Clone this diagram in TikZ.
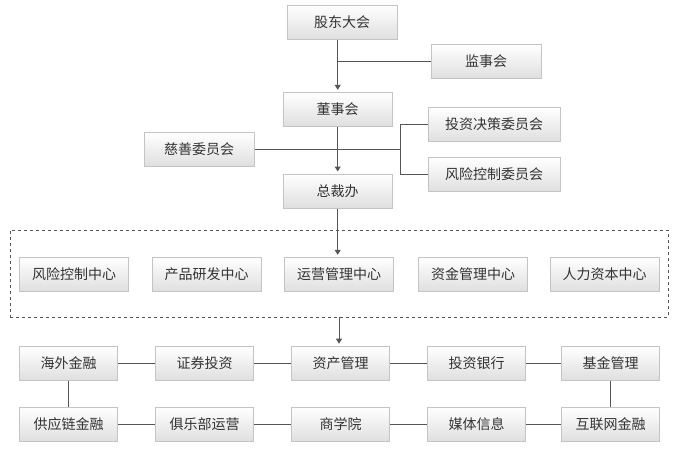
\documentclass[tikz,border=0pt]{standalone}
\usepackage{fontspec}
\setmainfont{Noto Sans CJK SC}
\usetikzlibrary{arrows.meta}
\definecolor{bordc}{HTML}{C4C4C4}
\definecolor{linec}{HTML}{555555}
\definecolor{txtc}{HTML}{333333}
\definecolor{botc}{HTML}{DFDFDF}
\tikzset{
  orgbox/.style={draw=bordc, line width=1pt, top color=white, bottom color=botc,
    minimum height=34pt, inner sep=0pt, text=txtc, font=\fontsize{14}{16}\selectfont},
  wa/.style={orgbox, minimum width=110pt},
  wb/.style={orgbox, minimum width=132pt},
  wc/.style={orgbox, minimum width=109pt},
  wd/.style={orgbox, minimum width=98pt},
  conn/.style={draw=linec, line width=1pt},
  arr/.style={conn, -{Triangle[width=6pt,length=5pt]}, shorten >=2pt}
}
\begin{document}
\begin{tikzpicture}[x=1pt,y=-1pt]
\useasboundingbox (0,0) rectangle (680,461);
% top part
\node[wa] (gd) at (342,22) {股东大会};
\node[wa] (js) at (486,61.5) {监事会};
\node[wc] (dsh) at (337.7,109.3) {董事会};
\node[wb] (tz) at (494,124.5) {投资决策委员会};
\node[wa] (cs) at (199,149.3) {慈善委员会};
\node[wb] (fk) at (494,174.5) {风险控制委员会};
\node[wc] (zcb) at (337.7,191) {总裁办};
% dashed group
\node[draw=linec, dashed, line width=0.8pt, minimum width=658pt, minimum height=87pt, inner sep=0pt] (grp) at (339,273.5) {};
\node[wc] (c1) at (74.2,274.3) {风险控制中心};
\node[wc] (c2) at (206.5,274.3) {产品研发中心};
\node[wc] (c3) at (339,274.3) {运营管理中心};
\node[wc] (c4) at (473,274.3) {资金管理中心};
\node[wc] (c5) at (604.5,274.3) {人力资本中心};
% row 3
\node[wd] (r1) at (68.7,363.2) {海外金融};
\node[wd] (r2) at (204.5,363.2) {证券投资};
\node[wd] (r3) at (340.5,363.2) {资产管理};
\node[wd] (r4) at (476.5,363.2) {投资银行};
\node[wd] (r5) at (610.5,363.2) {基金管理};
% row 4
\node[wd] (s1) at (68.7,424.2) {供应链金融};
\node[wd] (s2) at (204.5,424.2) {俱乐部运营};
\node[wd] (s3) at (340.5,424.2) {商学院};
\node[wd] (s4) at (476.5,424.2) {媒体信息};
\node[wd] (s5) at (610.5,424.2) {互联网金融};
% connectors
\coordinate (tk) at (337.7,0);
\coordinate (jsj) at (337.7,61.5);
\draw[arr] (gd.south -| tk) -- (dsh.north);
\draw[conn] (js.west) -- (jsj);
\draw[arr] (dsh.south) -- (zcb.north);
\coordinate (brx) at (400,0);
\draw[conn] (cs.east) -- (cs.east -| brx);
\draw[conn] (tz.west) -- (tz.west -| brx) -- (fk.west -| brx) -- (fk.west);
\draw[arr] (zcb.south) -- (zcb.south |- c3.north);
\draw[arr] (grp.south) -- (grp.south |- r3.north);
\draw[conn] (r1) -- (r2) (r2) -- (r3) (r3) -- (r4) (r4) -- (r5);
\draw[conn] (s1) -- (s2) (s2) -- (s3) (s3) -- (s4) (s4) -- (s5);
\draw[conn] (r1) -- (s1) (r5) -- (s5);
\end{tikzpicture}
\end{document}
